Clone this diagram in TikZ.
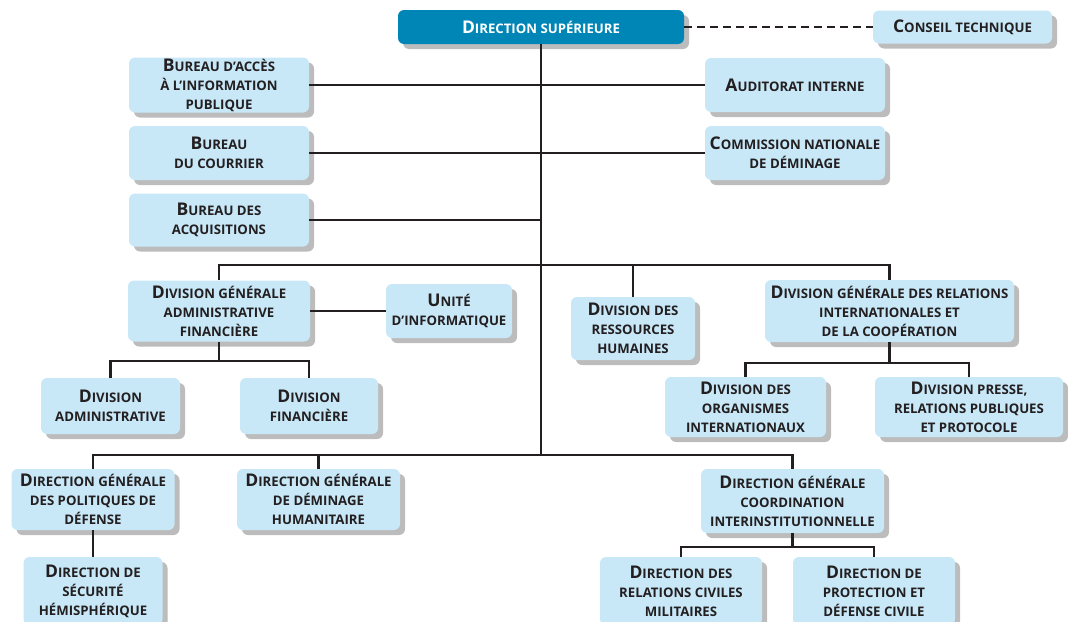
\documentclass[tikz,border=0pt]{standalone}
\usepackage{fontspec}
\setmainfont{Open Sans}
\usetikzlibrary{shadows}
\definecolor{lb}{HTML}{C8E8F8}
\definecolor{db}{HTML}{0086B6}
\definecolor{tx}{HTML}{231F20}
\definecolor{sh}{HTML}{BCBCBC}
\newcommand\Ini[1]{{\fontsize{17.5}{19}\selectfont #1}}
\tikzset{
  box/.style={rectangle, rounded corners=6pt, fill=lb, text=tx, align=center,
    inner sep=0pt, font=\bfseries\fontsize{13.2}{19}\selectfont,
    general shadow={fill=sh, shadow xshift=5pt, shadow yshift=-5pt}},
  topbox/.style={box, fill=db, text=white},
  link/.style={line width=2.6pt, draw=tx},
  dlink/.style={link, dash pattern=on 8pt off 5pt},
}
\begin{document}
\begin{tikzpicture}[x=1pt,y=-1pt]
\useasboundingbox (0,0) rectangle (1068,621);
% nodes
\node[topbox, minimum width=286pt, minimum height=34pt] (ds) at (541,27) {\Ini{D}IRECTION SUPÉRIEURE};
\node[box, minimum width=179pt, minimum height=33pt] (ct) at (962.5,27) {\Ini{C}ONSEIL TECHNIQUE};
\node[box, minimum width=180pt, minimum height=55pt] (ba) at (219,85) {\Ini{B}UREAU D’ACCÈS\\À L’INFORMATION\\PUBLIQUE};
\node[box, minimum width=180pt, minimum height=54pt] (ai) at (795,85) {\Ini{A}UDITORAT INTERNE};
\node[box, minimum width=180pt, minimum height=54pt] (bc) at (219,153) {\Ini{B}UREAU\\DU COURRIER};
\node[box, minimum width=180pt, minimum height=54pt] (cn) at (795,153) {\Ini{C}OMMISSION NATIONALE\\DE DÉMINAGE};
\node[box, minimum width=180pt, minimum height=53pt] (bq) at (219,220) {\Ini{B}UREAU DES\\ACQUISITIONS};
\node[box, minimum width=182pt, minimum height=61pt] (dgaf) at (219,311) {\Ini{D}IVISION GÉNÉRALE\\ADMINISTRATIVE\\FINANCIÈRE};
\node[box, minimum width=126pt, minimum height=54pt] (ui) at (449,311) {\Ini{U}NITÉ\\D’INFORMATIQUE};
\node[box, minimum width=139pt, minimum height=56pt] (da) at (110.5,406) {\Ini{D}IVISION\\ADMINISTRATIVE};
\node[box, minimum width=138pt, minimum height=56pt] (df) at (309,406) {\Ini{D}IVISION\\FINANCIÈRE};
\node[box, minimum width=124pt, minimum height=63pt] (drh) at (633,328.5) {\Ini{D}IVISION DES\\RESSOURCES\\HUMAINES};
\node[box, minimum width=249pt, minimum height=62pt] (dgri) at (889.5,311) {\Ini{D}IVISION GÉNÉRALE DES RELATIONS\\INTERNATIONALES ET\\DE LA COOPÉRATION};
\node[box, minimum width=161pt, minimum height=60pt] (doi) at (745.5,407) {\Ini{D}IVISION DES\\ORGANISMES\\INTERNATIONAUX};
\node[box, minimum width=188pt, minimum height=60pt] (dpr) at (969,407) {\Ini{D}IVISION PRESSE,\\RELATIONS PUBLIQUES\\ET PROTOCOLE};
\node[box, minimum width=163pt, minimum height=61pt] (dgpd) at (93,499.5) {\Ini{D}IRECTION GÉNÉRALE\\DES POLITIQUES DE\\DÉFENSE};
\node[box, minimum width=139pt, minimum height=68pt] (dsh) at (93,591) {\Ini{D}IRECTION DE\\SÉCURITÉ\\HÉMISPHÉRIQUE};
\node[box, minimum width=163pt, minimum height=61pt] (dgdh) at (318.5,499.5) {\Ini{D}IRECTION GÉNÉRALE\\DE DÉMINAGE\\HUMANITAIRE};
\node[box, minimum width=183pt, minimum height=64pt] (dgci) at (792.5,501) {\Ini{D}IRECTION GÉNÉRALE\\COORDINATION\\INTERINSTITUTIONNELLE};
\node[box, minimum width=162pt, minimum height=68pt] (drcm) at (681,591) {\Ini{D}IRECTION DES\\RELATIONS CIVILES\\MILITAIRES};
\node[box, minimum width=162pt, minimum height=68pt] (dpdc) at (874,591) {\Ini{D}IRECTION DE\\PROTECTION ET\\DÉFENSE CIVILE};
% bus coordinates
\coordinate (b1) at (541,265);
\coordinate (b2) at (541,455);
\coordinate (s1) at (219,361);
\coordinate (s2) at (889,363);
\coordinate (s3) at (792,547);
% connectors
\draw[dlink] (ds.east) -- (ct.west);
\draw[link] (ds.south) -- (ds.south |- b2);
\draw[link] (ba.east) -- (ai.west);
\draw[link] (bc.east) -- (cn.west);
\draw[link] (bq.east) -- (bq.east -| ds.south);
\draw[link] (dgaf.north) |- (b1) -| (dgri.north);
\draw[link] (drh.north) -- (drh.north |- b1);
\draw[link] (dgaf.east) -- (ui.west);
\draw[link] (dgaf.south) -- (dgaf.south |- s1);
\draw[link] (da.north) -- (da.north |- s1) -| (df.north);
\draw[link] (dgri.south) -- (dgri.south |- s2);
\draw[link] (doi.north) -- (doi.north |- s2) -| (dpr.north);
\draw[link] (dgpd.north) |- (b2) -| (dgci.north);
\draw[link] (dgdh.north) -- (dgdh.north |- b2);
\draw[link] (dgpd.south) -- (dsh.north);
\draw[link] (dgci.south) -- (dgci.south |- s3);
\draw[link] (drcm.north) -- (drcm.north |- s3) -| (dpdc.north);
\end{tikzpicture}
\end{document}
